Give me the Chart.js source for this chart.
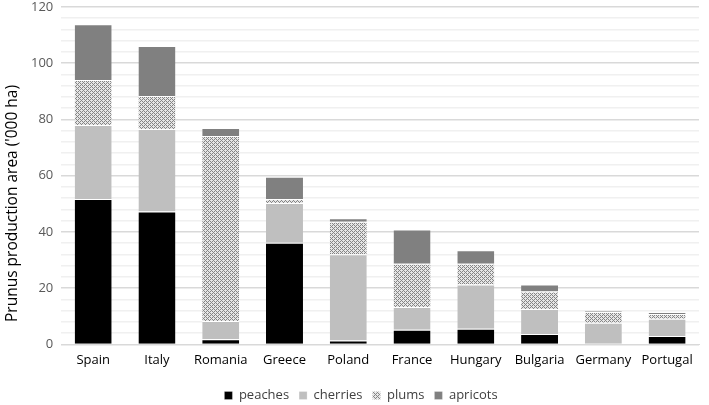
<!DOCTYPE html>
<html>
<head>
<meta charset="utf-8">
<script src="https://cdn.jsdelivr.net/npm/chart.js@4"></script>
<style>
  html, body { margin: 0; padding: 0; background: #fff; width: 709px; height: 405px; overflow: hidden; }
  /* canvas a bit taller than the window so the plot sits as high/low as in the reference */
  #wrap { width: 709px; height: 421px; margin-top: -9px; }
</style>
</head>
<body>
<div id="wrap"><canvas id="prunus-chart"></canvas></div>
<script>
// Data ('000 ha)
const countries = ['Spain', 'Italy', 'Romania', 'Greece', 'Poland', 'France', 'Hungary', 'Bulgaria', 'Germany', 'Portugal'];
const peaches  = [51.7, 47.2, 1.8, 36.1, 1.4, 5.2, 5.6, 3.7, 0, 3.0];
const cherries = [26.3, 29.4, 6.5, 14.2, 30.6, 8.1, 15.7, 8.9, 7.7, 6.1];
const plums    = [16.0, 11.7, 65.8, 1.4, 11.6, 15.4, 7.4, 6.2, 3.8, 1.7];
const apricots = [19.8, 17.8, 2.8, 7.9, 1.2, 12.1, 4.8, 2.5, 0.4, 0.7];
const yTicks = [0, 20, 40, 60, 80, 100, 120];
const yTitle = "Prunus production area ('000 ha)";

const font = "'Open Sans', 'Liberation Sans', sans-serif";

// Fine checker-like diagonal hatch used for plums
function makeHatch() {
    const rows = ['1010', '0100', '1010', '0001'];
    const c = document.createElement('canvas');
    c.width = 4; c.height = 4;
    const g = c.getContext('2d');
    g.fillStyle = '#e6e6e6';
    g.fillRect(0, 0, 4, 4);
    g.fillStyle = '#858585';
    rows.forEach((r, y) => {
        for (let x = 0; x < 4; x++) {
            if (r[x] === '1') g.fillRect(x, y, 1, 1);
        }
    });
    return g.createPattern(c, 'repeat');
}

// Excel centres the axis title on the whole chart, not on the plot area
const yTitlePlugin = {
    id: 'yTitle',
    afterDraw(chart) {
        const c = chart.ctx;
        c.save();
        c.translate(13, chart.height / 2 + 2);
        c.rotate(-Math.PI / 2);
        c.font = '15.5px ' + font;
        c.fillStyle = '#000000';
        c.textAlign = 'center';
        c.textBaseline = 'middle';
        c.fillText(yTitle, 0, 0);
        c.restore();
    }
};

document.addEventListener('DOMContentLoaded', function() {
    const ctx = document.getElementById('prunus-chart');
    const hatch = makeHatch();

    const seg = (label, data, color) => ({
        label: label,
        data: data,
        backgroundColor: color,
        borderColor: '#ffffff',
        borderWidth: { top: 1, bottom: 0, left: 0, right: 0 },
        borderSkipped: false,
        barPercentage: 0.58,
        categoryPercentage: 1.0
    });

    new Chart(ctx, {
        type: 'bar',
        data: {
            labels: countries,
            datasets: [
                seg('peaches', peaches, '#000000'),
                seg('cherries', cherries, '#bfbfbf'),
                seg('plums', plums, hatch),
                seg('apricots', apricots, '#808080')
            ]
        },
        plugins: [yTitlePlugin],
        options: {
            responsive: true,
            maintainAspectRatio: false,
            animation: false,
            layout: { padding: { top: 0, right: 10, left: 23, bottom: 0 } },
            plugins: {
                legend: {
                    position: 'bottom',
                    labels: {
                        boxWidth: 8,
                        boxHeight: 8,
                        padding: 10,
                        color: '#404040',
                        font: { family: font, size: 13 }
                    }
                },
                tooltip: { enabled: false }
            },
            scales: {
                x: {
                    stacked: true,
                    grid: { display: false },
                    border: { color: '#d9d9d9' },
                    ticks: { color: '#000000', font: { family: font, size: 13 }, padding: 0 },
                    // leave room between the country names and the legend
                    afterFit: s => { s.height += 11; }
                },
                y: {
                    stacked: true,
                    min: 0,
                    max: 120,
                    border: { display: false },
                    grid: {
                        drawTicks: false,
                        lineWidth: 1.5,
                        color: c => (yTicks.includes(c.tick.value) ? '#d9d9d9' : '#f0f0f0')
                    },
                    ticks: {
                        stepSize: 4,
                        autoSkip: false,
                        padding: 8,
                        color: '#595959',
                        font: { family: font, size: 13 },
                        callback: v => (yTicks.includes(v) ? v : '')
                    }
                }
            }
        }
    });
});
</script>
</body>
</html>
